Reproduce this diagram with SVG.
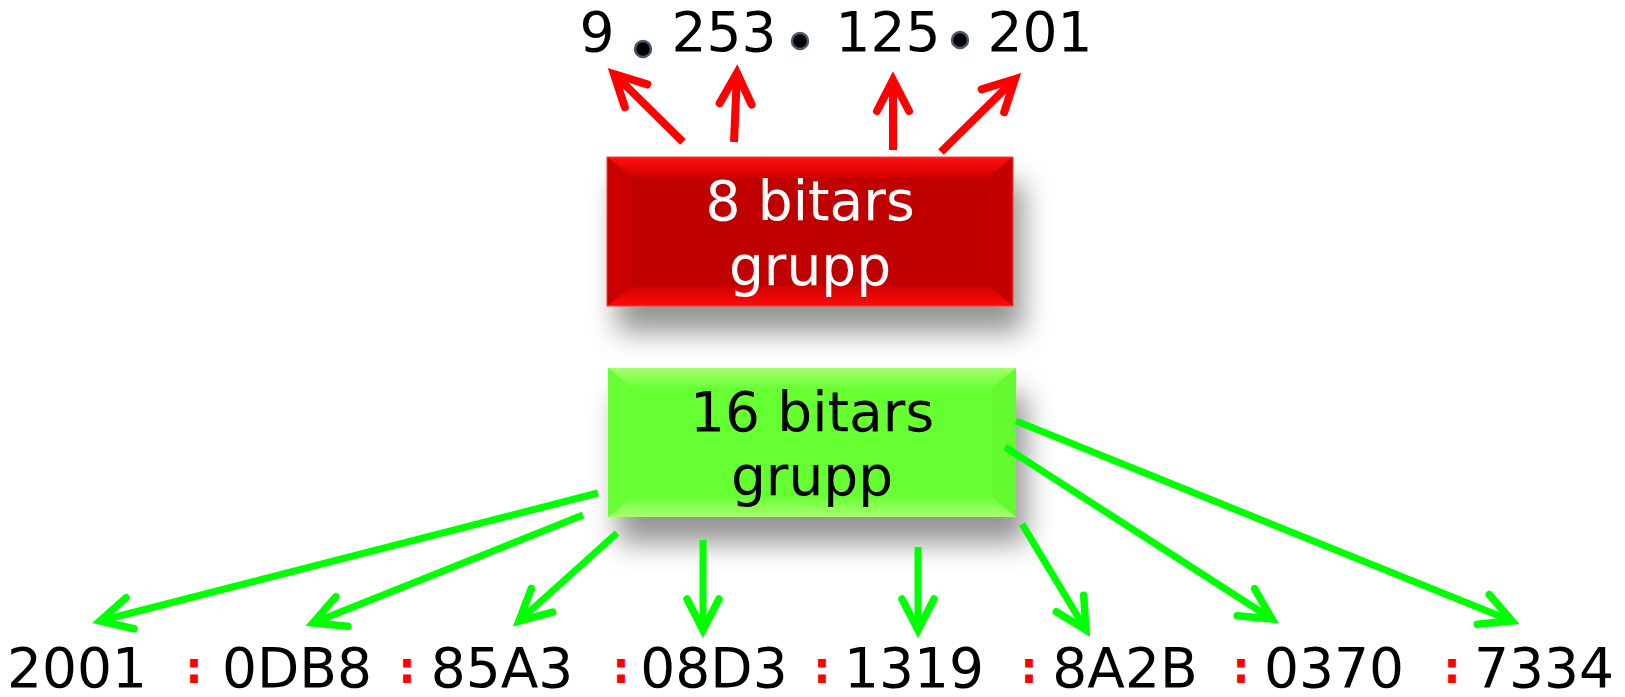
<svg xmlns="http://www.w3.org/2000/svg" width="1625" height="697" viewBox="0 0 1625 697">
  <style>
    .num { font-family: "DejaVu Sans", Verdana, sans-serif; font-size: 55px; fill: #000; text-anchor: middle; }
    .colon { font-family: "DejaVu Sans", Verdana, sans-serif; font-size: 44px; font-weight: bold; fill: #ff0000; text-anchor: middle; }
    .lbl { font-family: "DejaVu Sans", Verdana, sans-serif; font-size: 55px; text-anchor: middle; }
    .red-line { stroke: #ff0000; stroke-width: 8; fill: none; }
    .green-line { stroke: #00ff00; stroke-width: 7; fill: none; }
    .dot { fill: #000; stroke: #4b5a6e; stroke-width: 2.5; }
  </style>
  <defs>
    <marker id="arrRed" markerUnits="userSpaceOnUse" orient="auto" refX="0" refY="0" markerWidth="80" markerHeight="80" overflow="visible">
      <path d="M-31,-16 L0,0 L-31,16" fill="none" stroke="#ff0000" stroke-width="8" stroke-linecap="round" stroke-linejoin="miter" stroke-miterlimit="10"/>
    </marker>
    <marker id="arrGreen" markerUnits="userSpaceOnUse" orient="auto" refX="0" refY="0" markerWidth="80" markerHeight="80" overflow="visible">
      <path d="M-31,-16 L0,0 L-31,16" fill="none" stroke="#00ff00" stroke-width="7.5" stroke-linecap="round" stroke-linejoin="miter" stroke-miterlimit="10"/>
    </marker>
    <filter id="shadow" x="-20%" y="-30%" width="150%" height="190%">
      <feDropShadow dx="10" dy="26" stdDeviation="14" flood-color="#000" flood-opacity="0.42"/>
    </filter>
    <linearGradient id="redTop" x1="0" y1="0" x2="0" y2="1">
      <stop offset="0" stop-color="#ff1010"/>
      <stop offset="1" stop-color="#d20000"/>
    </linearGradient>
    <linearGradient id="redBot" x1="0" y1="0" x2="0" y2="1">
      <stop offset="0" stop-color="#d00000"/>
      <stop offset="1" stop-color="#ff0a0a"/>
    </linearGradient>
    <linearGradient id="greenTop" x1="0" y1="0" x2="0" y2="1">
      <stop offset="0" stop-color="#a3ff6b"/>
      <stop offset="1" stop-color="#6cff38"/>
    </linearGradient>
    <linearGradient id="greenBot" x1="0" y1="0" x2="0" y2="1">
      <stop offset="0" stop-color="#6cff38"/>
      <stop offset="1" stop-color="#a8ff6e"/>
    </linearGradient>
  </defs>

  <rect width="1625" height="697" fill="#fff"/>

  <!-- Red node -->
  <g id="node-8bit">
    <rect x="607" y="157" width="406" height="149" fill="#c00000" filter="url(#shadow)"/>
    <polygon points="607,157 1013,157 989,177 631,177" fill="url(#redTop)"/>
    <polygon points="607,306 1013,306 989,286 631,286" fill="url(#redBot)"/>
    <polygon points="607,157 631,177 631,286 607,306" fill="#c80000"/>
    <polygon points="1013,157 989,177 989,286 1013,306" fill="#c50000"/>
    <rect x="607" y="157" width="406" height="149" fill="none" stroke="#ff3a3a" stroke-width="1"/>
    <text class="lbl" x="810" y="220" fill="#ffffff">8 bitars</text>
    <text class="lbl" x="810" y="285" fill="#ffffff">grupp</text>
  </g>

  <!-- Green node -->
  <g id="node-16bit">
    <rect x="608" y="368" width="408" height="149" fill="#66ff33" filter="url(#shadow)"/>
    <polygon points="608,368 1016,368 992,388 632,388" fill="url(#greenTop)"/>
    <polygon points="608,517 1016,517 992,497 632,497" fill="url(#greenBot)"/>
    <polygon points="608,368 632,388 632,497 608,517" fill="#68fd35"/>
    <polygon points="1016,368 992,388 992,497 1016,517" fill="#64fa32"/>
    <text class="lbl" x="812" y="431" fill="#000000">16 bitars</text>
    <text class="lbl" x="812" y="495" fill="#000000">grupp</text>
  </g>

  <!-- IPv4 address -->
  <g id="ipv4">
    <text class="num" x="597" y="51">9</text>
    <circle class="dot" cx="643" cy="49" r="8"/>
    <text class="num" x="724" y="51">253</text>
    <circle class="dot" cx="800" cy="41" r="8"/>
    <text class="num" x="888" y="51">125</text>
    <circle class="dot" cx="960" cy="40" r="8"/>
    <text class="num" x="1040" y="51">201</text>
  </g>

  <!-- IPv6 address -->
  <g id="ipv6">
    <text class="num" x="77" y="687">2001</text>
    <text class="colon" x="194" y="683">:</text>
    <text class="num" x="297" y="687">0DB8</text>
    <text class="colon" x="407" y="683">:</text>
    <text class="num" x="502" y="687">85A3</text>
    <text class="colon" x="621" y="683">:</text>
    <text class="num" x="714" y="687">08D3</text>
    <text class="colon" x="822" y="683">:</text>
    <text class="num" x="914" y="687">1319</text>
    <text class="colon" x="1029" y="683">:</text>
    <text class="num" x="1125" y="687">8A2B</text>
    <text class="colon" x="1241" y="683">:</text>
    <text class="num" x="1334" y="687">0370</text>
    <text class="colon" x="1452" y="683">:</text>
    <text class="num" x="1544" y="687">7334</text>
  </g>

  <!-- Connectors -->
  <g id="connectors">
    <line class="red-line" x1="683" y1="142" x2="614" y2="74" marker-end="url(#arrRed)"/>
    <line class="red-line" x1="734" y1="142" x2="737" y2="73" marker-end="url(#arrRed)"/>
    <line class="red-line" x1="893" y1="150" x2="893" y2="80" marker-end="url(#arrRed)"/>
    <line class="red-line" x1="941" y1="152" x2="1015" y2="79" marker-end="url(#arrRed)"/>

    <line class="green-line" x1="598" y1="493" x2="100" y2="621" marker-end="url(#arrGreen)"/>
    <line class="green-line" x1="583" y1="515" x2="313" y2="623" marker-end="url(#arrGreen)"/>
    <line class="green-line" x1="617" y1="533" x2="519" y2="621" marker-end="url(#arrGreen)"/>
    <line class="green-line" x1="703" y1="540" x2="703" y2="630" marker-end="url(#arrGreen)"/>
    <line class="green-line" x1="918" y1="547" x2="918" y2="630" marker-end="url(#arrGreen)"/>
    <line class="green-line" x1="1022" y1="524" x2="1086" y2="630" marker-end="url(#arrGreen)"/>
    <line class="green-line" x1="1005" y1="447" x2="1272" y2="619" marker-end="url(#arrGreen)"/>
    <line class="green-line" x1="1016" y1="421" x2="1512" y2="621" marker-end="url(#arrGreen)"/>
  </g>
</svg>
